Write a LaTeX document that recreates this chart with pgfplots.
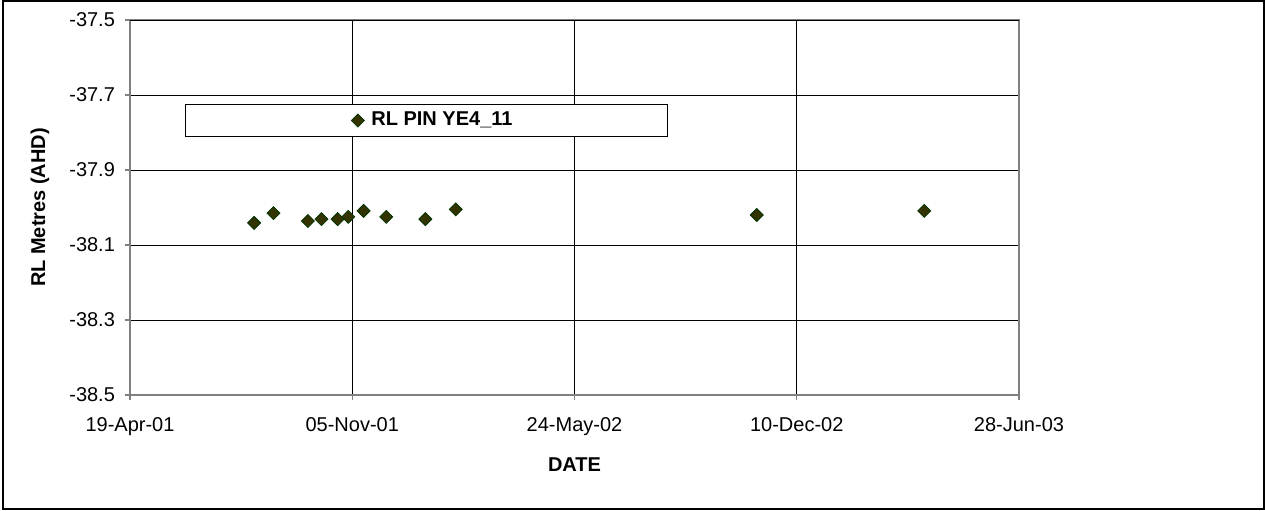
\documentclass[border=0pt]{standalone}
\usepackage{pgfplots}
\pgfplotsset{compat=1.18}
\usepackage{fontspec}
\setmainfont{Liberation Sans}
\definecolor{mkfill}{HTML}{333300}
\definecolor{mkdraw}{HTML}{003300}
\definecolor{axgray}{HTML}{808080}
\begin{document}
\fontsize{10}{12}\selectfont
\begin{tikzpicture}
\path[use as bounding box] (0pt,0pt) rectangle (632.5pt,255pt);
\draw[line width=0.6pt] (1.5pt,0.5pt) rectangle (632pt,254.5pt);
\begin{axis}[
  at={(65pt,57.5pt)}, anchor=south west,
  scale only axis, width=444.5pt, height=187.5pt,
  xmin=0, xmax=800, ymin=-38.5, ymax=-37.5,
  xtick={0,200,400,600,800},
  xticklabels={19-Apr-01,05-Nov-01,24-May-02,10-Dec-02,28-Jun-03},
  ytick={-38.5,-38.3,-38.1,-37.9,-37.7,-37.5},
  yticklabels={-38.5,-38.3,-38.1,-37.9,-37.7,-37.5},
  xtick pos=left, ytick pos=left,
  tick align=outside, major tick length=2.5pt,
  tick style={axgray, line width=0.6pt},
  xmajorgrids, ymajorgrids,
  grid style={black, line width=0.5pt},
  axis line style={axgray, line width=1pt},
  /pgf/number format/assume math mode=true,
  tick label style={font=\fontsize{10}{12}\selectfont},
  xticklabel style={yshift=-5pt},
  yticklabel style={xshift=-1.5pt},
  xlabel={\textbf{DATE}},
  ylabel={\textbf{RL Metres (AHD)}},
  xlabel style={at={(axis description cs:0.5,-0.1867)}, anchor=center, font=\fontsize{10}{12}\selectfont},
  ylabel style={at={(axis description cs:-0.1012,0.5)}, anchor=center, font=\fontsize{10}{12}\selectfont},
  legend style={at={(axis description cs:0.3335,0.732)}, anchor=center,
    draw=black, line width=0.5pt, inner xsep=83pt, inner ysep=2pt,
    font=\fontsize{10}{12}\selectfont\bfseries},
  clip=false,
]
\addplot[only marks, mark=square*, mark size=2.3pt,
  mark options={rotate=45, fill=mkfill, draw=mkdraw, line width=0.4pt}]
  coordinates {
  (111.7,-38.041) (129.1,-38.015) (160.1,-38.036) (172.3,-38.031)
  (186.9,-38.031) (196.4,-38.025) (210.2,-38.009) (230.6,-38.025)
  (265.8,-38.031) (293.1,-38.005) (564.0,-38.020) (714.7,-38.009)
  };
\addlegendentry{\hspace*{1.5pt}RL PIN YE4\_11\hspace*{-7.5pt}}
\draw[black, line width=0.5pt] (rel axis cs:0,1) -- (rel axis cs:1,1);
\end{axis}
\end{tikzpicture}
\end{document}
